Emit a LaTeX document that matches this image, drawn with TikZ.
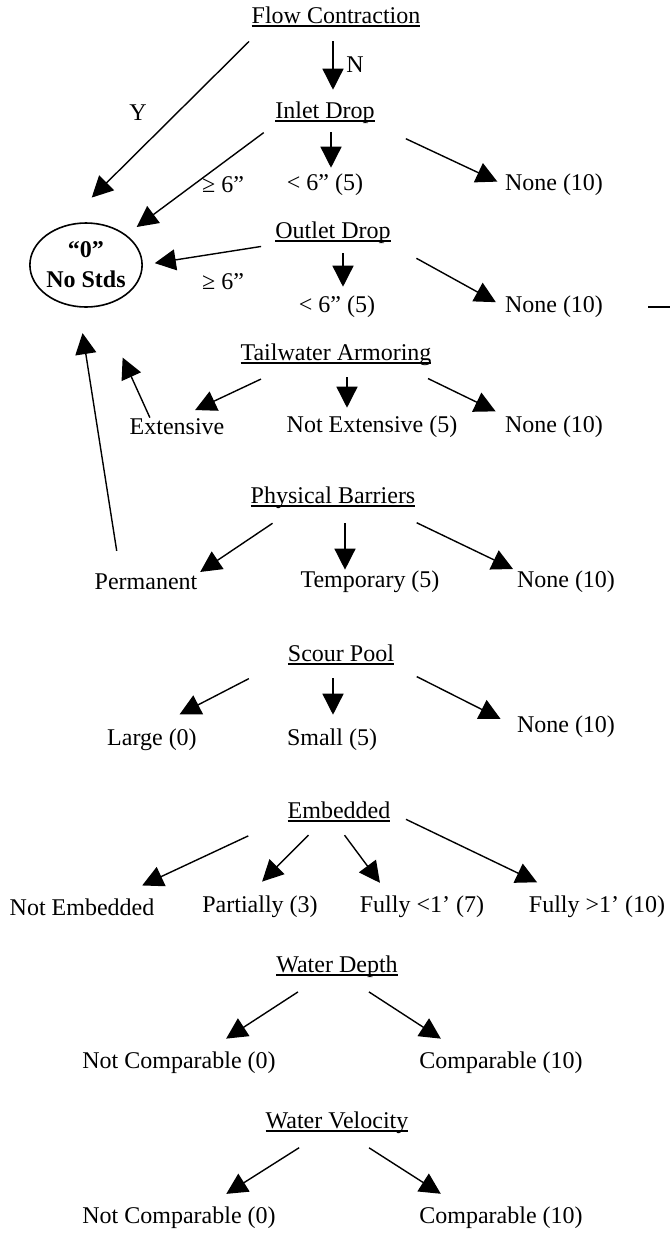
\documentclass[tikz,border=0pt]{standalone}
\usepackage{fontspec}
\setmainfont{Liberation Serif}
\usetikzlibrary{arrows.meta,shapes.geometric}

\newsavebox{\hdbox}
\newcommand{\ulhead}[1]{\sbox\hdbox{#1}\rlap{\rule[-1.6pt]{\wd\hdbox}{0.9pt}}\usebox\hdbox}

\tikzset{
  lbl/.style={inner sep=0pt, font=\fontsize{12}{14}\selectfont},
  head/.style={lbl},
  arr/.style={line width=0.7pt, -{Triangle[length=10.5pt,width=10.5pt]}},
}

\begin{document}
\begin{tikzpicture}[x=0.5pt, y=-0.5pt]
\useasboundingbox (0,0) rectangle (670,1233);

% headings
\node[head] (fc) at (336,17) {\ulhead{Flow Contraction}};
\node[head] (inlet) at (325,113) {\ulhead{Inlet Drop}};
\node[head] (outlet) at (333,233) {\ulhead{Outlet Drop}};
\node[head] (tail) at (336,355) {\ulhead{Tailwater Armoring}};
\node[head] (phys) at (333,498) {\ulhead{Physical Barriers}};
\node[head] (scour) at (341,655) {\ulhead{Scour Pool}};
\node[head] (emb) at (339,812) {\ulhead{Embedded}};
\node[head] (depth) at (337,967) {\ulhead{Water Depth}};
\node[head] (velo) at (337,1123) {\ulhead{Water Velocity}};

\node[draw, ellipse, line width=0.8pt, inner sep=0pt, minimum width=54pt, minimum height=42pt,
  align=center, font=\fontsize{12}{14}\selectfont\bfseries] (nostds) at (86,265) {“0”\\[1pt]No Stds};

% choices
\node[lbl] (yes) at (138,113) {Y};
\node[lbl] (no) at (355,65) {N};
\node[lbl] (ilge) at (223,185) {≥ 6”};
\node[lbl] (ilt) at (325,185) {< 6” (5)};
\node[lbl] (inone) at (554,185) {None (10)};
\node[lbl] (olge) at (223,282) {≥ 6”};
\node[lbl] (olt) at (337,307) {< 6” (5)};
\node[lbl] (onone) at (554,307) {None (10)};
\node[lbl] (ext) at (177,427) {Extensive};
\node[lbl] (notext) at (372,427) {Not Extensive (5)};
\node[lbl] (tnone) at (554,427) {None (10)};
\node[lbl] (perm) at (146,582) {Permanent};
\node[lbl] (temp) at (370,582) {Temporary (5)};
\node[lbl] (pnone) at (566,582) {None (10)};
\node[lbl] (large) at (152,740) {Large (0)};
\node[lbl] (small) at (332,740) {Small (5)};
\node[lbl] (snone) at (566,727) {None (10)};
\node[lbl] (notemb) at (82,907) {Not Embedded};
\node[lbl] (part) at (260,907) {Partially (3)};
\node[lbl] (full1) at (422,907) {Fully <1’ (7)};
\node[lbl] (full2) at (597,907) {Fully >1’ (10)};
\node[lbl] (dnc) at (179,1063) {Not Comparable (0)};
\node[lbl] (dc) at (501,1063) {Comparable (10)};
\node[lbl] (vnc) at (179,1218) {Not Comparable (0)};
\node[lbl] (vc) at (501,1218) {Comparable (10)};

% arrows
\draw[arr, shorten <=10pt, shorten >=20pt] ([xshift=6pt]fc.south west) -- (nostds.120);
\draw[arr, shorten <=7pt, shorten >=6pt] ([xshift=-1.5pt]fc.south) -- ([xshift=-1.5pt]fc.south |- inlet.north);
\draw[arr, shorten <=7pt, shorten >=6.5pt] (inlet.south west) -- (nostds.north east);
\draw[arr, shorten <=4pt, shorten >=3pt] ([xshift=3pt]inlet.south) -- ([xshift=3pt]inlet.south |- ilt.north);
\draw[arr, shorten <=17pt, shorten >=4pt] (inlet.south east) -- (inone.west);
\draw[arr, shorten <=7pt, shorten >=6pt] (outlet.south west) -- (nostds.east);
\draw[arr, shorten <=4.5pt, shorten >=4.5pt] ([xshift=5pt]outlet.south) -- ([xshift=5pt]outlet.south |- olt.north);
\draw[arr, shorten <=14.5pt, shorten >=5pt] (outlet.south east) -- (onone.west);
\draw[line width=0.7pt] ([xshift=22.5pt]onone.east) -- ([xshift=40pt]onone.east);
\draw[arr, shorten <=11.5pt, shorten >=13pt] ([xshift=13pt]perm.north west) -- (nostds.-100);
\draw[arr, shorten <=0.5pt, shorten >=28pt] ([xshift=10.5pt]ext.north west) -- (nostds.-72);
\draw[arr, shorten <=15pt, shorten >=10pt] ([xshift=24pt]tail.south west) -- (ext.north);
\draw[arr, shorten <=5.5pt, shorten >=4pt] ([xshift=5.5pt]tail.south) -- ([xshift=5.5pt]tail.south |- notext.north);
\draw[arr, shorten <=14pt, shorten >=5pt] ([xshift=-14.5pt]tail.south east) -- (tnone.north west);
\draw[arr, shorten <=12.5pt, shorten >=1.5pt] ([xshift=21.5pt]phys.south west) -- (perm.north east);
\draw[arr, shorten <=7pt, shorten >=0.5pt] ([xshift=6pt]phys.south) -- ([xshift=6pt]phys.south |- temp.north);
\draw[arr, shorten <=15.5pt, shorten >=2pt] ([xshift=-13.5pt]phys.south east) -- (pnone.north west);
\draw[arr, shorten <=14.5pt, shorten >=15.5pt] ([xshift=-6.5pt]scour.south west) -- (large.north);
\draw[arr, shorten <=6.5pt, shorten >=7pt] ([xshift=-4pt]scour.south) -- ([xshift=-4pt]scour.south |- small.north);
\draw[arr, shorten <=12.5pt, shorten >=9pt] (scour.south east) -- (snone.west);
\draw[arr, shorten <=16pt, shorten >=15pt] ([xshift=-5pt]emb.south west) -- ([xshift=16.5pt]notemb.north);
\draw[arr, shorten <=9pt, shorten >=10pt] ([xshift=17pt]emb.south west) -- ([xshift=-6pt]part.north);
\draw[arr, shorten <=8pt, shorten >=8pt] ([xshift=-2pt]emb.south) -- ([xshift=15pt]full1.north west);
\draw[arr, shorten <=8.5pt, shorten >=15.5pt] (emb.east) -- ([xshift=-16pt]full2.north);
\draw[arr, shorten <=12.5pt, shorten >=12pt] ([xshift=21.5pt]depth.south west) -- ([xshift=13.5pt]dnc.north);
\draw[arr, shorten <=12.5pt, shorten >=12pt] ([xshift=5.5pt]depth.south) -- ([xshift=-20pt]dc.north);
\draw[arr, shorten <=12.5pt, shorten >=12pt] ([xshift=27.5pt]velo.south west) -- ([xshift=13.5pt]vnc.north);
\draw[arr, shorten <=12.5pt, shorten >=12pt] ([xshift=5.5pt]velo.south) -- ([xshift=-20pt]vc.north);
\end{tikzpicture}
\end{document}
